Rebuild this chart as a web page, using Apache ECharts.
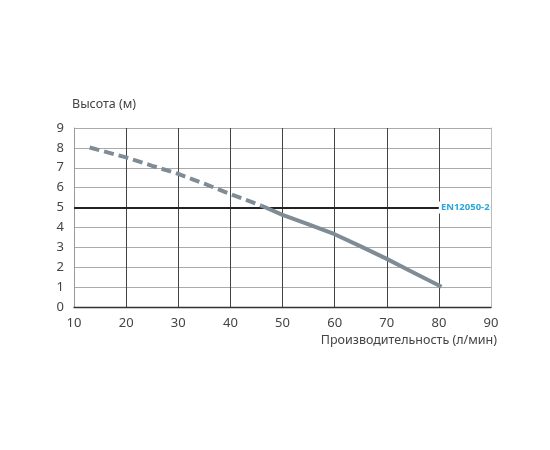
<!DOCTYPE html>
<html lang="ru">
<head>
    <meta charset="UTF-8">
    <title>Высота / производительность</title>
    <script src="https://cdn.jsdelivr.net/npm/echarts@6/dist/echarts.min.js"></script>
    <style>
        html, body {
            margin: 0;
            height: 100%;
            width: 100%;
            overflow: hidden;
            background: #fff;
        }
        #chart {
            width: 550px;
            height: 450px;
        }
    </style>
</head>
<body>
<div id="chart"></div>
<script>
    // кривая насоса: пунктирная часть и сплошная часть
    var dashedPart = [[13, 8.02], [20, 7.52], [25, 7.1], [30, 6.69], [35, 6.2], [40, 5.68], [46, 5.09]];
    var solidPart = [[46, 5.09], [50, 4.63], [55, 4.15], [60, 3.66], [65, 3.05], [70, 2.42], [75, 1.75], [80.5, 1.02]];

    // уровень по стандарту
    var refName = 'EN12050-2';
    var refLevel = 5;
    var refFrom = 10;
    var refTo = 80;

    var xTicks = [10, 20, 30, 40, 50, 60, 70, 80, 90];
    var yTicks = [0, 1, 2, 3, 4, 5, 6, 7, 8, 9];

    var font = 'Noto Sans';
    var curveColor = '#7f8c95';

    var chart = echarts.init(document.getElementById('chart'));
    chart.setOption({
        animation: false,
        textStyle: {fontFamily: font},
        grid: {left: 74, right: 59, top: 128, bottom: 143},
        xAxis: {
            type: 'value',
            min: xTicks[0],
            max: xTicks[xTicks.length - 1],
            interval: 10,
            name: 'Производительность (л/мин)',
            nameLocation: 'end',
            nameGap: 6,
            nameTextStyle: {
                color: '#444', fontSize: 12.5, align: 'right',
                verticalAlign: 'top', padding: [27, 0, 0, 0]
            },
            axisLine: {lineStyle: {color: '#333', width: 1.3}},
            axisTick: {show: false},
            axisLabel: {color: '#444', fontSize: 13, margin: 10},
            splitLine: {
                show: true, showMinLine: false, showMaxLine: false,
                lineStyle: {color: '#444', width: 1}
            }
        },
        yAxis: [{
            type: 'value',
            min: yTicks[0],
            max: yTicks[yTicks.length - 1],
            interval: 1,
            name: 'Высота (м)',
            nameLocation: 'end',
            nameGap: 17,
            nameTextStyle: {color: '#444', fontSize: 12.5, align: 'left', padding: [0, 0, 0, -2]},
            axisLine: {show: true, lineStyle: {color: '#999', width: 1}},
            axisTick: {show: false},
            axisLabel: {color: '#444', fontSize: 13, margin: 10},
            splitLine: {show: true, lineStyle: {color: '#aaa', width: 1}}
        }, {
            // правая граница сетки
            type: 'value',
            position: 'right',
            min: yTicks[0],
            max: yTicks[yTicks.length - 1],
            interval: 1,
            axisLine: {show: true, lineStyle: {color: '#bbb', width: 1}},
            axisTick: {show: false},
            axisLabel: {show: false},
            splitLine: {show: false}
        }],
        series: [
            {
                name: 'dashed',
                type: 'line',
                data: dashedPart,
                symbol: 'none',
                lineStyle: {color: curveColor, width: 4, type: [10, 5]},
                z: 5
            },
            {
                name: 'solid',
                type: 'line',
                data: solidPart,
                symbol: 'none',
                lineStyle: {color: curveColor, width: 4},
                z: 5,
                markLine: {
                    silent: true,
                    symbol: 'none',
                    lineStyle: {color: '#222', width: 2, type: 'solid'},
                    label: {
                        show: true,
                        position: 'end',
                        formatter: refName,
                        color: '#2aa6dc',
                        fontWeight: 'bold',
                        fontSize: 9.5,
                        distance: 0,
                        padding: [1, 1, 1, 2],
                        backgroundColor: '#fff'
                    },
                    data: [[{coord: [refFrom, refLevel]}, {coord: [refTo, refLevel]}]],
                    z: 3
                }
            }
        ]
    });
</script>
</body>
</html>
